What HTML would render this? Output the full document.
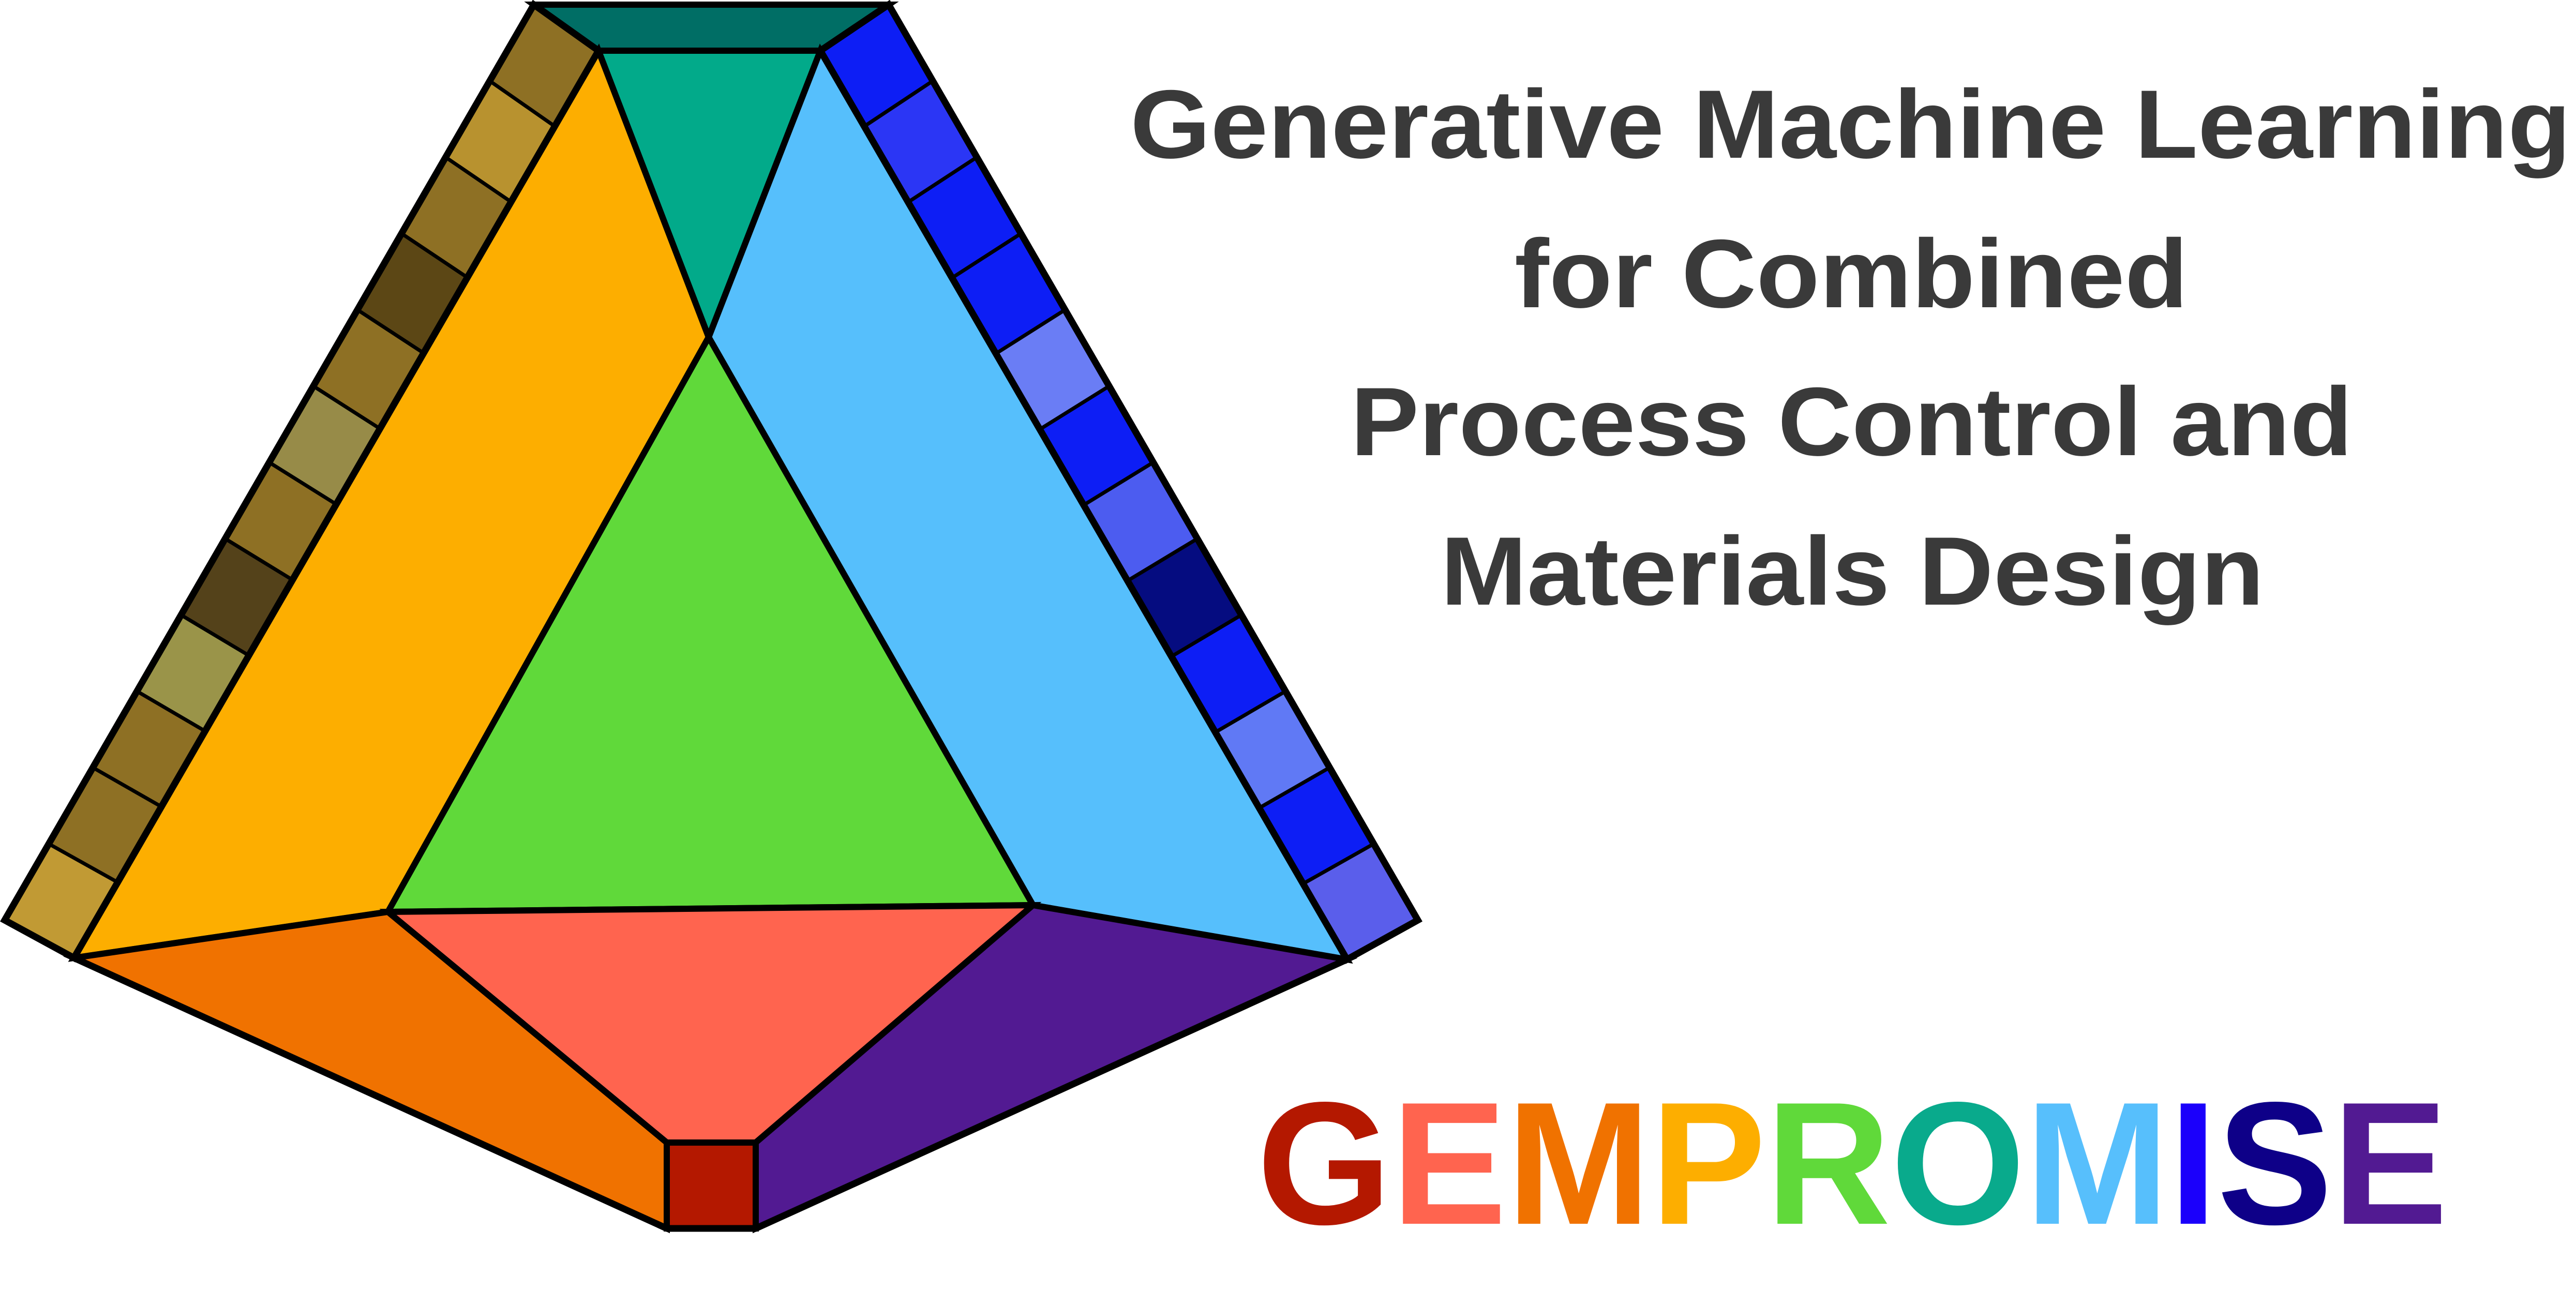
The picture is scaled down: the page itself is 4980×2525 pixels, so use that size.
<!DOCTYPE html>
<html><head><meta charset="utf-8"><style>
html,body{margin:0;padding:0;background:#fff;}
svg{display:block}
</style></head><body>
<svg width="4980" height="2525" viewBox="0 0 4980 2525" xmlns="http://www.w3.org/2000/svg">
<rect width="4980" height="2525" fill="#fff"/>
<g stroke="#000" stroke-width="12" stroke-linejoin="miter">
<polygon points="1032,9 1718,9 1586,98 1157,98" fill="#006E65"/>
<polygon points="1157,98 1586,98 1370,652" fill="#02AA8A"/>
<polygon points="1157,98 1370,652 750,1763 143,1852" fill="#FDAE00"/>
<polygon points="1586,98 2604,1855 1997,1750 1370,652" fill="#56BFFC"/>
<polygon points="1370,652 1997,1750 750,1763" fill="#60D93A"/>
<polygon points="750,1763 1997,1750 1461,2209 1289,2209" fill="#FF644F"/>
<polygon points="143,1852 750,1763 1289,2209 1289,2375" fill="#F07200"/>
<polygon points="1997,1750 2604,1855 1461,2375 1461,2209" fill="#521A92"/>
<rect x="1289" y="2209" width="172" height="166" fill="#B41800"/>
</g>
<g stroke="#000" stroke-width="7">
<polygon points="1032,9 946.8,156.5 1072.5,244.2 1157,98" fill="#8E7024"/>
<polygon points="946.8,156.5 861.5,304 988,390.3 1072.5,244.2" fill="#B8922F"/>
<polygon points="861.5,304 776.3,451.5 903.5,536.5 988,390.3" fill="#8E7024"/>
<polygon points="776.3,451.5 691,599 819,682.7 903.5,536.5" fill="#5C4715"/>
<polygon points="691,599 605.8,746.5 734.5,828.8 819,682.7" fill="#8E7024"/>
<polygon points="605.8,746.5 520.5,894 650,975 734.5,828.8" fill="#978B48"/>
<polygon points="520.5,894 435.3,1041.5 565.5,1121.2 650,975" fill="#8E7024"/>
<polygon points="435.3,1041.5 350,1189 481,1267.3 565.5,1121.2" fill="#54421A"/>
<polygon points="350,1189 264.8,1336.5 396.5,1413.5 481,1267.3" fill="#9A9449"/>
<polygon points="264.8,1336.5 179.5,1484 312,1559.7 396.5,1413.5" fill="#8E7024"/>
<polygon points="179.5,1484 94.3,1631.5 227.5,1705.8 312,1559.7" fill="#8E7024"/>
<polygon points="94.3,1631.5 9,1779 143,1852 227.5,1705.8" fill="#C19A34"/>

<polygon points="1718,9 1803.3,156.5 1670.8,244.4 1586,98" fill="#0D1EF5"/>
<polygon points="1803.3,156.5 1888.5,304 1755.7,390.8 1670.8,244.4" fill="#2B36F5"/>
<polygon points="1888.5,304 1973.8,451.5 1840.5,537.3 1755.7,390.8" fill="#0D1EF5"/>
<polygon points="1973.8,451.5 2059,599 1925.3,683.7 1840.5,537.3" fill="#0D1EF5"/>
<polygon points="2059,599 2144.3,746.5 2010.2,830.1 1925.3,683.7" fill="#6A7DF5"/>
<polygon points="2144.3,746.5 2229.5,894 2095,976.5 2010.2,830.1" fill="#0D1EF5"/>
<polygon points="2229.5,894 2314.8,1041.5 2179.8,1122.9 2095,976.5" fill="#4C5CF0"/>
<polygon points="2314.8,1041.5 2400,1189 2264.7,1269.3 2179.8,1122.9" fill="#050C80"/>
<polygon points="2400,1189 2485.3,1336.5 2349.5,1415.8 2264.7,1269.3" fill="#0D1EF5"/>
<polygon points="2485.3,1336.5 2570.5,1484 2434.3,1562.2 2349.5,1415.8" fill="#6079F5"/>
<polygon points="2570.5,1484 2655.8,1631.5 2519.2,1708.6 2434.3,1562.2" fill="#0D1EF5"/>
<polygon points="2655.8,1631.5 2741,1779 2604,1855 2519.2,1708.6" fill="#5A5EEB"/>
</g>
<g fill="none" stroke="#000" stroke-width="13" stroke-linejoin="miter">
<polygon points="1032,9 9,1779 143,1852 1157,98"/>
<polygon points="1718,9 2741,1779 2604,1855 1586,98"/>
<polyline points="143,1852 1289,2375 1461,2375 2604,1855"/>
</g>
<g font-family="Liberation Sans, sans-serif" font-weight="bold" fill="#3A3A3A" font-size="188">
<text x="2185" y="305" textLength="2785" lengthAdjust="spacingAndGlyphs">Generative Machine Learning</text>
<text x="2928" y="594" textLength="1302" lengthAdjust="spacingAndGlyphs">for Combined</text>
<text x="2611" y="880" textLength="1937" lengthAdjust="spacingAndGlyphs">Process Control and</text>
<text x="2785" y="1169" textLength="1592" lengthAdjust="spacingAndGlyphs">Materials Design</text>
</g>
<text x="2430" y="2366" font-family="Liberation Sans, sans-serif" font-weight="bold" font-size="338" textLength="2302" lengthAdjust="spacingAndGlyphs"><tspan fill="#B41800">G</tspan><tspan fill="#FF644F">E</tspan><tspan fill="#F07200">M</tspan><tspan fill="#FDAE00">P</tspan><tspan fill="#60D93A">R</tspan><tspan fill="#09AA8C">O</tspan><tspan fill="#57BFFC">M</tspan><tspan fill="#1B00FB">I</tspan><tspan fill="#0E0088">S</tspan><tspan fill="#521A92">E</tspan></text>
</svg>
</body></html>
